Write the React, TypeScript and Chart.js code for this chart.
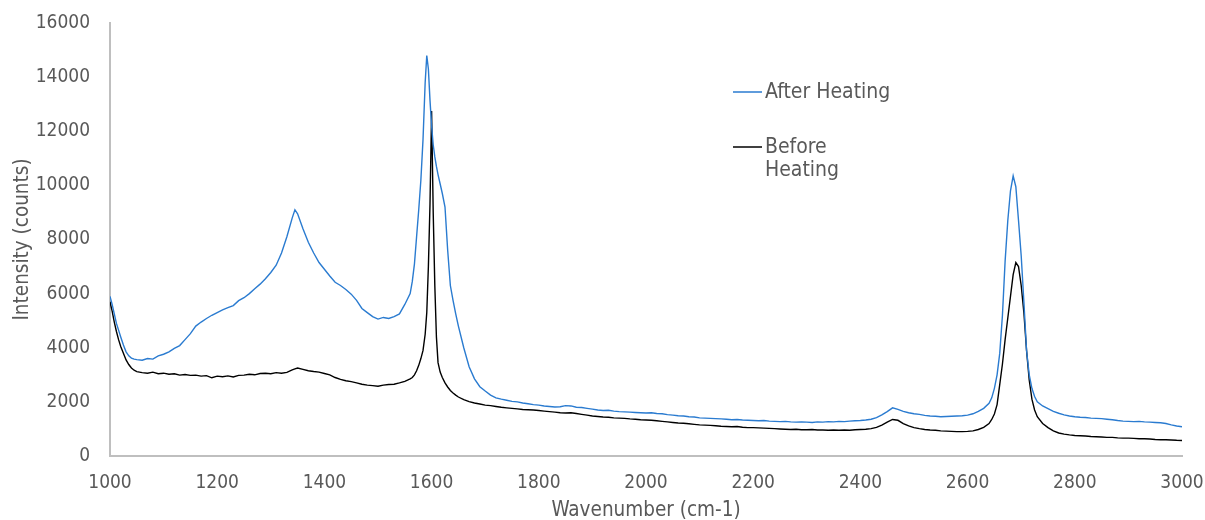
import React, { useEffect, useRef } from "react";
import { Chart, registerables } from "chart.js";

Chart.register(...registerables);

// Raman shift axis (cm-1), sampled more densely across the sharp G and 2D bands
const wavenumbers = [
  1000, 1004, 1008, 1012, 1016, 1020, 1025, 1030, 1035, 1040, 1045, 1050,
  1060, 1070, 1080, 1090, 1100, 1110, 1120, 1130, 1140, 1150,
  1160, 1170, 1180, 1190, 1200, 1210, 1220, 1230, 1240, 1250,
  1260, 1270, 1280, 1290, 1300, 1310, 1320, 1330, 1340,
  1345,
  1350, 1360, 1370, 1380, 1390, 1400, 1410, 1420, 1430, 1440,
  1450, 1460, 1470, 1480, 1490, 1500, 1510, 1520, 1530, 1540,
  1550, 1560,
  1564, 1568, 1572, 1576, 1580, 1584, 1588, 1591, 1594, 1597, 1600,
  1603, 1606, 1609, 1612, 1616, 1620, 1625, 1630, 1635, 1640, 1645,
  1650, 1660, 1670, 1680, 1690, 1700, 1710, 1720, 1730, 1740,
  1750, 1760, 1770, 1780, 1790, 1800, 1810, 1820, 1830, 1840,
  1850, 1860, 1870, 1880, 1890, 1900, 1910, 1920, 1930, 1940,
  1950, 1960, 1970, 1980, 1990, 2000, 2010, 2020, 2030, 2040,
  2050, 2060, 2070, 2080, 2090, 2100, 2110, 2120, 2130, 2140,
  2150, 2160, 2170, 2180, 2190, 2200, 2210, 2220, 2230, 2240,
  2250, 2260, 2270, 2280, 2290, 2300, 2310, 2320, 2330, 2340,
  2350, 2360, 2370, 2380, 2390, 2400, 2410, 2420, 2430, 2440,
  2450, 2460, 2470, 2480, 2490, 2500, 2510, 2520, 2530, 2540,
  2550, 2560, 2570, 2580, 2590, 2600, 2610, 2620, 2630, 2640,
  2645, 2650, 2655, 2660, 2665, 2670, 2675, 2680, 2685, 2690,
  2695, 2700, 2705, 2710, 2715, 2720, 2725,
  2730, 2740, 2750, 2760, 2770, 2780, 2790, 2800, 2810, 2820,
  2830, 2840, 2850, 2860, 2870, 2880, 2890, 2900, 2910, 2920,
  2930, 2940, 2950, 2960, 2970, 2980, 2990, 3000,
];

// Intensity (counts) after heating
const afterHeating = [
  5900, 5600, 5250, 4900, 4650, 4400, 4100, 3850, 3700, 3620, 3580, 3560,
  3540, 3600, 3580, 3700, 3760, 3850, 3980, 4080, 4300, 4520,
  4800, 4950, 5080, 5200, 5300, 5400, 5480, 5560, 5740, 5850,
  6000, 6180, 6350, 6550, 6780, 7050, 7500, 8100, 8800,
  9100,
  8950, 8400, 7900, 7500, 7150, 6900, 6650, 6420, 6300, 6150,
  5980, 5750, 5450, 5300, 5150, 5060, 5120, 5080, 5150, 5250,
  5600, 6000,
  6450, 7100, 8100, 9100, 10200, 11700, 13800, 14800, 14300, 13150, 12200,
  11500, 11050, 10700, 10400, 10050, 9700, 9200, 7600, 6300, 5750, 5250,
  4800, 4000, 3300, 2850, 2560, 2400, 2250, 2150, 2100, 2060,
  2020, 2000, 1960, 1930, 1900, 1880, 1850, 1830, 1810, 1820,
  1860, 1850, 1800, 1790, 1760, 1730, 1700, 1680, 1690, 1660,
  1640, 1630, 1620, 1610, 1600, 1590, 1600, 1570, 1560, 1530,
  1510, 1490, 1480, 1450, 1440, 1410, 1400, 1390, 1380, 1370,
  1360, 1340, 1350, 1330, 1320, 1310, 1300, 1310, 1290, 1280,
  1270, 1280, 1260, 1250, 1260, 1250, 1240, 1260, 1250, 1270,
  1260, 1280, 1270, 1290, 1300, 1310, 1330, 1360, 1420, 1520,
  1640, 1780, 1720, 1650, 1600, 1560, 1540, 1500, 1480, 1470,
  1450, 1460, 1470, 1480, 1490, 1510, 1560, 1650, 1760, 1950,
  2150, 2500, 3000, 3800, 5200, 7200, 8700, 9800, 10350, 9950,
  8700, 7400, 5700, 3900, 3000, 2500, 2200,
  2000, 1850, 1750, 1650, 1580, 1520, 1480, 1450, 1430, 1420,
  1400, 1390, 1380, 1360, 1340, 1310, 1290, 1280, 1270, 1280,
  1260, 1250, 1240, 1230, 1200, 1150, 1110, 1080,
];

// Intensity (counts) before heating
const beforeHeating = [
  5700, 5350, 4950, 4600, 4300, 4050, 3800, 3550, 3380, 3250, 3170, 3120,
  3080, 3060, 3100, 3040, 3060, 3020, 3040, 2990, 3010, 2980,
  2990, 2950, 2970, 2890, 2950, 2930, 2960, 2920, 2980, 2990,
  3020, 3000, 3050, 3060, 3040, 3080, 3060, 3090, 3180,
  3220,
  3250, 3200, 3150, 3120, 3100, 3050, 3000, 2900, 2830, 2780,
  2750, 2700, 2650, 2620, 2600, 2580, 2620, 2640, 2650, 2700,
  2760, 2850,
  2900, 3000, 3150, 3350, 3600, 3900, 4500, 5300, 7000, 9300, 12750,
  9000, 6300, 4400, 3450, 3100, 2900, 2700, 2550, 2420, 2330, 2250,
  2180, 2080, 2010, 1960, 1920, 1880, 1860, 1830, 1800, 1780,
  1760, 1740, 1720, 1710, 1700, 1680, 1660, 1640, 1620, 1600,
  1590, 1600, 1570, 1540, 1510, 1480, 1460, 1440, 1430, 1410,
  1400, 1390, 1370, 1360, 1340, 1330, 1320, 1300, 1280, 1260,
  1240, 1220, 1210, 1190, 1170, 1150, 1140, 1130, 1120, 1100,
  1090, 1080, 1090, 1060, 1050, 1050, 1040, 1030, 1020, 1010,
  1000, 990, 980, 990, 970, 970, 980, 960, 960, 950,
  960, 950, 960, 950, 970, 980, 990, 1010, 1060, 1140,
  1250, 1350, 1320, 1200, 1110, 1050, 1010, 980, 960, 950,
  930, 920, 910, 900, 900, 910, 930, 980, 1060, 1200,
  1350, 1550, 1900, 2650, 3400, 4300, 5100, 5900, 6700, 7150,
  7000, 6300, 5300, 3900, 2800, 2100, 1700,
  1450, 1200, 1050, 930, 850, 810, 780, 760, 750, 740,
  720, 710, 700, 690, 690, 670, 660, 660, 650, 640,
  640, 630, 610, 600, 600, 590, 580, 575,
];

const yTicks = [0, 2000, 4000, 6000, 8000, 10000, 12000, 14000, 16000];
const xTicks = [1000, 1200, 1400, 1600, 1800, 2000, 2200, 2400, 2600, 2800, 3000];

const FONT = '"DejaVu Sans Condensed", "DejaVu Sans", sans-serif';
const TEXT = "#595959";
const AXIS = "#bfbfbf";
const BLUE = "#2a7bd0";
const BLACK = "#000000";

// Legend drawn inside the plot, to the right of the G band
const insideLegend = {
  id: "insideLegend",
  afterDraw(chart: any) {
    const { ctx, chartArea } = chart;
    const x0 = chartArea.left + 623;
    const lineLen = 29;
    const textX = x0 + lineLen + 3;
    const rows = [
      { ds: 0, y: chartArea.top + 69, lines: ["After Heating"] },
      { ds: 1, y: chartArea.top + 124, lines: ["Before", "Heating"] },
    ];
    ctx.save();
    ctx.font = `21px ${FONT}`;
    ctx.textBaseline = "middle";
    ctx.textAlign = "left";
    rows.forEach((r) => {
      const ds = chart.data.datasets[r.ds];
      ctx.strokeStyle = ds.borderColor;
      ctx.lineWidth = 1.5;
      ctx.beginPath();
      ctx.moveTo(x0, r.y);
      ctx.lineTo(x0 + lineLen, r.y);
      ctx.stroke();
      ctx.fillStyle = TEXT;
      r.lines.forEach((t, i) => ctx.fillText(t, textX, r.y + 1 + i * 23));
    });
    ctx.restore();
  },
};

const plainNumber = (v: number | string) => String(v);

export default function App() {
  const canvasRef = useRef<HTMLCanvasElement | null>(null);

  useEffect(() => {
    const canvas = canvasRef.current;
    if (!canvas) return;
    const toPoints = (vals: number[]) =>
      vals.map((v, i) => ({ x: wavenumbers[i], y: v }));

    const chart = new Chart(canvas, {
      type: "line",
      data: {
        datasets: [
          {
            label: "After Heating",
            data: toPoints(afterHeating),
            borderColor: BLUE,
            borderWidth: 1.4,
            pointRadius: 0,
            tension: 0,
            fill: false,
          },
          {
            label: "Before Heating",
            data: toPoints(beforeHeating),
            borderColor: BLACK,
            borderWidth: 1.4,
            pointRadius: 0,
            tension: 0,
            fill: false,
          },
        ],
      },
      options: {
        responsive: false,
        animation: false,
        layout: { padding: { top: 23, right: 23, left: 0, bottom: 0 } },
        plugins: {
          legend: { display: false },
          tooltip: { enabled: false },
        },
        scales: {
          x: {
            type: "linear",
            min: xTicks[0],
            max: xTicks[xTicks.length - 1],
            afterBuildTicks: (scale: any) => {
              scale.ticks = xTicks.map((v) => ({ value: v }));
            },
            afterFit: (scale: any) => {
              scale.height = 64;
              scale.paddingLeft = 0;
              scale.paddingRight = 0;
            },
            grid: { display: false, drawTicks: false },
            border: { display: true, color: AXIS, width: 2 },
            ticks: {
              color: TEXT,
              font: { family: FONT, size: 19 },
              padding: 16,
              maxRotation: 0,
              autoSkip: false,
              callback: plainNumber,
            },
            title: {
              display: true,
              text: "Wavenumber (cm-1)",
              color: TEXT,
              font: { family: FONT, size: 20.5 },
              padding: { top: 0, bottom: -3 },
            },
          },
          y: {
            type: "linear",
            min: yTicks[0],
            max: yTicks[yTicks.length - 1],
            afterBuildTicks: (scale: any) => {
              scale.ticks = yTicks.map((v) => ({ value: v }));
            },
            afterFit: (scale: any) => {
              scale.width = 110;
              scale.paddingTop = 0;
              scale.paddingBottom = 0;
            },
            grid: { display: false, drawTicks: false },
            border: { display: true, color: AXIS, width: 2 },
            ticks: {
              color: TEXT,
              font: { family: FONT, size: 19 },
              padding: 20,
              autoSkip: false,
              callback: plainNumber,
            },
            title: {
              display: true,
              text: "Intensity (counts)",
              color: TEXT,
              font: { family: FONT, size: 20.5 },
              padding: { top: 10, bottom: 0 },
            },
          },
        },
      },
      plugins: [insideLegend],
    });

    return () => chart.destroy();
  }, []);

  return (
    <div style={{ position: "absolute", left: 0, top: 0, width: 1205, height: 520, background: "#fff" }}>
      <canvas ref={canvasRef} width={1205} height={520} />
    </div>
  );
}
